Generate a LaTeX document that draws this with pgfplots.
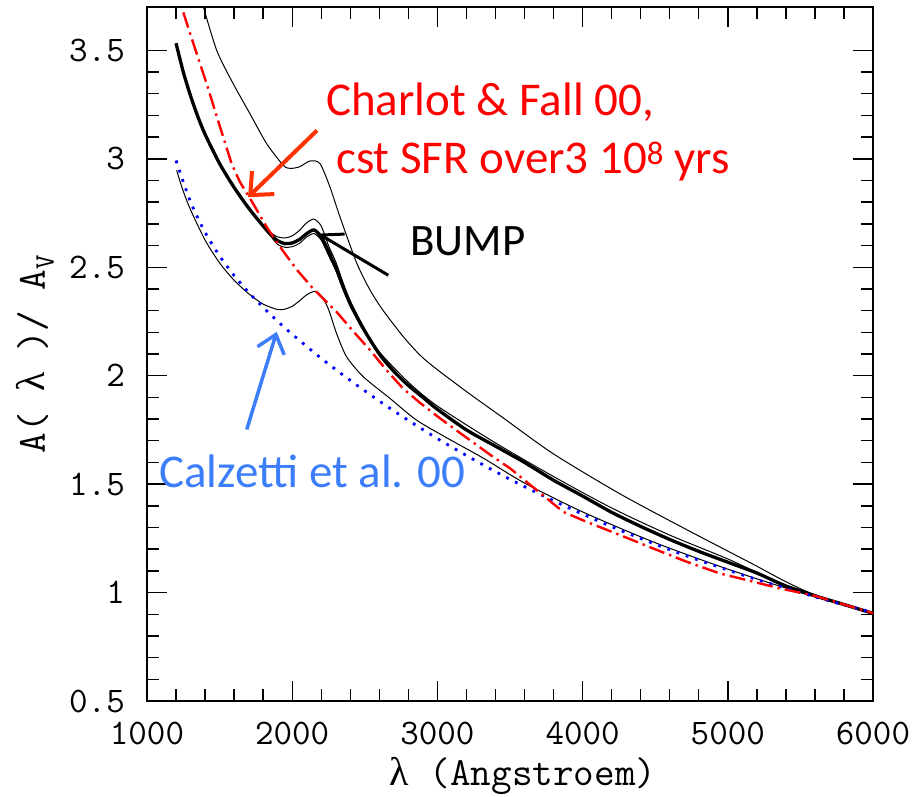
\documentclass[border=0pt]{standalone}
\usepackage{fontspec}
\setmainfont{Carlito}
\newfontfamily\pgfont{Latin Modern Mono}
\newfontfamily\lamfont{Liberation Serif}
\usepackage{pgfplots}
\pgfplotsset{compat=1.18}
\usetikzlibrary{arrows.meta}
\definecolor{cfred}{RGB}{255,0,0}
\definecolor{arrred}{RGB}{255,50,0}
\definecolor{calblue}{RGB}{60,125,250}
\definecolor{dotblue}{RGB}{0,0,255}
\begin{document}
\begin{tikzpicture}
\begin{axis}[
  scale only axis, width=726pt, height=694pt,
  xmin=1000, xmax=6000, ymin=0.5, ymax=3.7,
  xtick={1000,2000,3000,4000,5000,6000},
  ytick={0.5,1,1.5,2,2.5,3,3.5},
  minor x tick num=4, minor y tick num=4,
  tick align=inside, major tick length=20pt, minor tick length=12pt,
  tick style={black, line width=1.4pt},
  axis line style={line width=2pt},
  /pgf/number format/assume math mode=true,
  /pgf/number format/1000 sep={},
  xticklabel style={font=\pgfont\fontsize{36}{40}\selectfont, inner sep=0pt, yshift=-21pt},
  yticklabel style={font=\pgfont\fontsize{36}{40}\selectfont, inner sep=0pt, xshift=-22pt},
  xlabel={\pgfont\fontsize{40}{44}\selectfont{\lamfont λ} (Angstroem)},
  xlabel style={at={(axis description cs:0.518,0)}, anchor=base, inner sep=0pt, yshift=-84pt},
  ylabel={\pgfont\fontsize{40}{44}\selectfont A( {\lamfont λ} )/ A\textsubscript{V}},
  ylabel style={at={(axis description cs:-0.1405,0.5)}, anchor=base, inner sep=0pt},
]
% thin top curve
\addplot[black, line width=1pt, smooth, tension=0.45] coordinates {
(1380,3.72)(1480,3.50)(1594,3.346)(1709,3.208)(1824,3.07)(1939,2.97)(1985,2.956)
(2050,2.963)(2123,2.99)(2191,2.978)(2260,2.87)(2329,2.732)(2444,2.52)(2536,2.395)
(2627,2.30)(2765,2.18)(2880,2.095)(2995,2.03)(3224,1.915)(3454,1.805)(3798,1.64)
(4258,1.455)(4717,1.29)(5176,1.13)(5400,1.05)(5600,0.99)(6000,0.905)};
% thin bracket above thick
\addplot[black, line width=1pt, smooth, tension=0.45] coordinates {
(1750,2.73)(1800,2.692)(1850,2.66)(1900,2.64)(1950,2.635)(2000,2.645)(2050,2.67)
(2100,2.705)(2150,2.722)(2200,2.69)(2250,2.60)(2300,2.525)(2350,2.43)(2400,2.345)
(2500,2.215)(2600,2.11)(2800,1.97)(3000,1.86)(3400,1.69)(3800,1.535)(4200,1.39)
(4600,1.265)(5000,1.155)(5400,1.035)(6000,0.904)};
% thin bracket below thick
\addplot[black, line width=1pt, smooth, tension=0.45] coordinates {
(1800,2.688)(1850,2.645)(1900,2.605)(1950,2.592)(2000,2.595)(2050,2.61)(2100,2.64)
(2150,2.655)(2200,2.625)(2250,2.555)(2300,2.485)(2350,2.40)(2400,2.325)(2500,2.20)
(2600,2.095)(2700,2.017)};
% thin bottom curve
\addplot[black, line width=1pt, smooth, tension=0.45] coordinates {
(1204,2.947)(1250,2.85)(1300,2.765)(1400,2.625)(1500,2.52)(1600,2.44)(1700,2.378)
(1800,2.33)(1900,2.305)(1950,2.307)(2000,2.32)(2050,2.345)(2100,2.373)(2157,2.389)
(2200,2.37)(2249,2.308)(2306,2.194)(2375,2.087)(2490,1.995)(2674,1.895)(2857,1.795)
(3087,1.705)(3316,1.62)(3600,1.505)(4000,1.372)(4500,1.23)(5000,1.108)(5500,1.0)(6000,0.906)};
% thick curve
\addplot[black, line width=3.3pt, smooth, tension=0.45] coordinates {
(1200,3.533)(1250,3.40)(1300,3.29)(1350,3.195)(1400,3.113)(1500,2.978)(1600,2.868)
(1700,2.773)(1800,2.690)(1850,2.652)(1900,2.622)(1950,2.609)(2000,2.612)(2050,2.628)
(2100,2.655)(2150,2.672)(2200,2.64)(2250,2.57)(2300,2.50)(2350,2.41)(2400,2.33)
(2450,2.265)(2500,2.205)(2600,2.10)(2700,2.02)(2800,1.955)(2900,1.90)(3000,1.845)
(3200,1.75)(3400,1.675)(3600,1.60)(3800,1.518)(4000,1.445)(4200,1.37)(4400,1.305)
(4600,1.245)(4800,1.19)(5000,1.14)(5200,1.09)(5400,1.03)(5600,0.985)(5800,0.945)(6000,0.904)};
% Calzetti dotted
\addplot[dotblue, line width=2.8pt, dash pattern=on 2.8pt off 7pt, smooth, tension=0.45] coordinates {
(1200,2.992)(1300,2.801)(1400,2.661)(1500,2.552)(1600,2.462)(1700,2.384)(1800,2.315)
(1900,2.251)(2000,2.191)(2200,2.080)(2350,2.003)(2500,1.930)(2650,1.860)(2800,1.794)
(3000,1.710)(3250,1.613)(3500,1.522)(3750,1.439)(4000,1.362)(4250,1.290)(4500,1.223)
(4750,1.161)(5000,1.104)(5200,1.060)(5500,1.000)(5750,0.952)(6000,0.908)};
% Charlot & Fall dash-dot
\addplot[cfred, line width=2.4pt, dash pattern=on 16pt off 5pt on 2.4pt off 5pt] coordinates {
(1250,3.675)(1330,3.51)(1411,3.346)(1503,3.147)(1583,2.977)(1640,2.893)(1732,2.792)(1824,2.686)
(1916,2.594)(2030,2.49)(2146,2.40)(2306,2.294)(2420,2.205)(2536,2.118)(2650,2.025)(2765,1.94)(2880,1.875)(2995,1.815)
(3110,1.758)(3224,1.703)(3360,1.637)(3500,1.573)(3684,1.472)(3867,1.372)(4028,1.326)(4258,1.265)(4487,1.203)
(4717,1.142)(4946,1.088)(5176,1.05)(5360,1.019)(5600,0.985)(6000,0.905)};
% annotations
\node[anchor=base west, text=cfred, inner sep=0pt, font=\fontsize{47}{56}\selectfont] at (axis cs:2233,3.2005) {Charlot \& Fall 00,};
\node[anchor=base west, text=cfred, inner sep=0pt, font=\fontsize{47}{56}\selectfont] at (axis cs:2302,2.933) {cst SFR over3 10\textsuperscript{8} yrs};
\node[anchor=base west, text=black, inner sep=0pt, font=\fontsize{45}{54}\selectfont] at (axis cs:2811,2.555) {BUMP};
\node[anchor=base west, text=calblue, inner sep=0pt, font=\fontsize{47}{56}\selectfont] at (axis cs:1083,1.486) {Calzetti et al. 00};
\draw[arrred, line width=4pt, -{Straight Barb[length=18pt,width=32pt]}] (axis cs:2171,3.131) -- (axis cs:1696,2.823);
\draw[black, line width=3pt, -{Straight Barb[length=20pt,width=26pt]}] (axis cs:2662,2.463) -- (axis cs:2180,2.655);
\draw[calblue, line width=3.5pt, -{Straight Barb[length=17pt,width=28pt]}] (axis cs:1687,1.752) -- (axis cs:1893,2.202);
\coordinate (sw) at (rel axis cs:0,0);
\coordinate (ne) at (rel axis cs:1,1);
\end{axis}
\pgfresetboundingbox
\path[use as bounding box] ([shift={(-147pt,-95pt)}]sw) rectangle ([shift={(46pt,7pt)}]ne);
\end{tikzpicture}
\end{document}
